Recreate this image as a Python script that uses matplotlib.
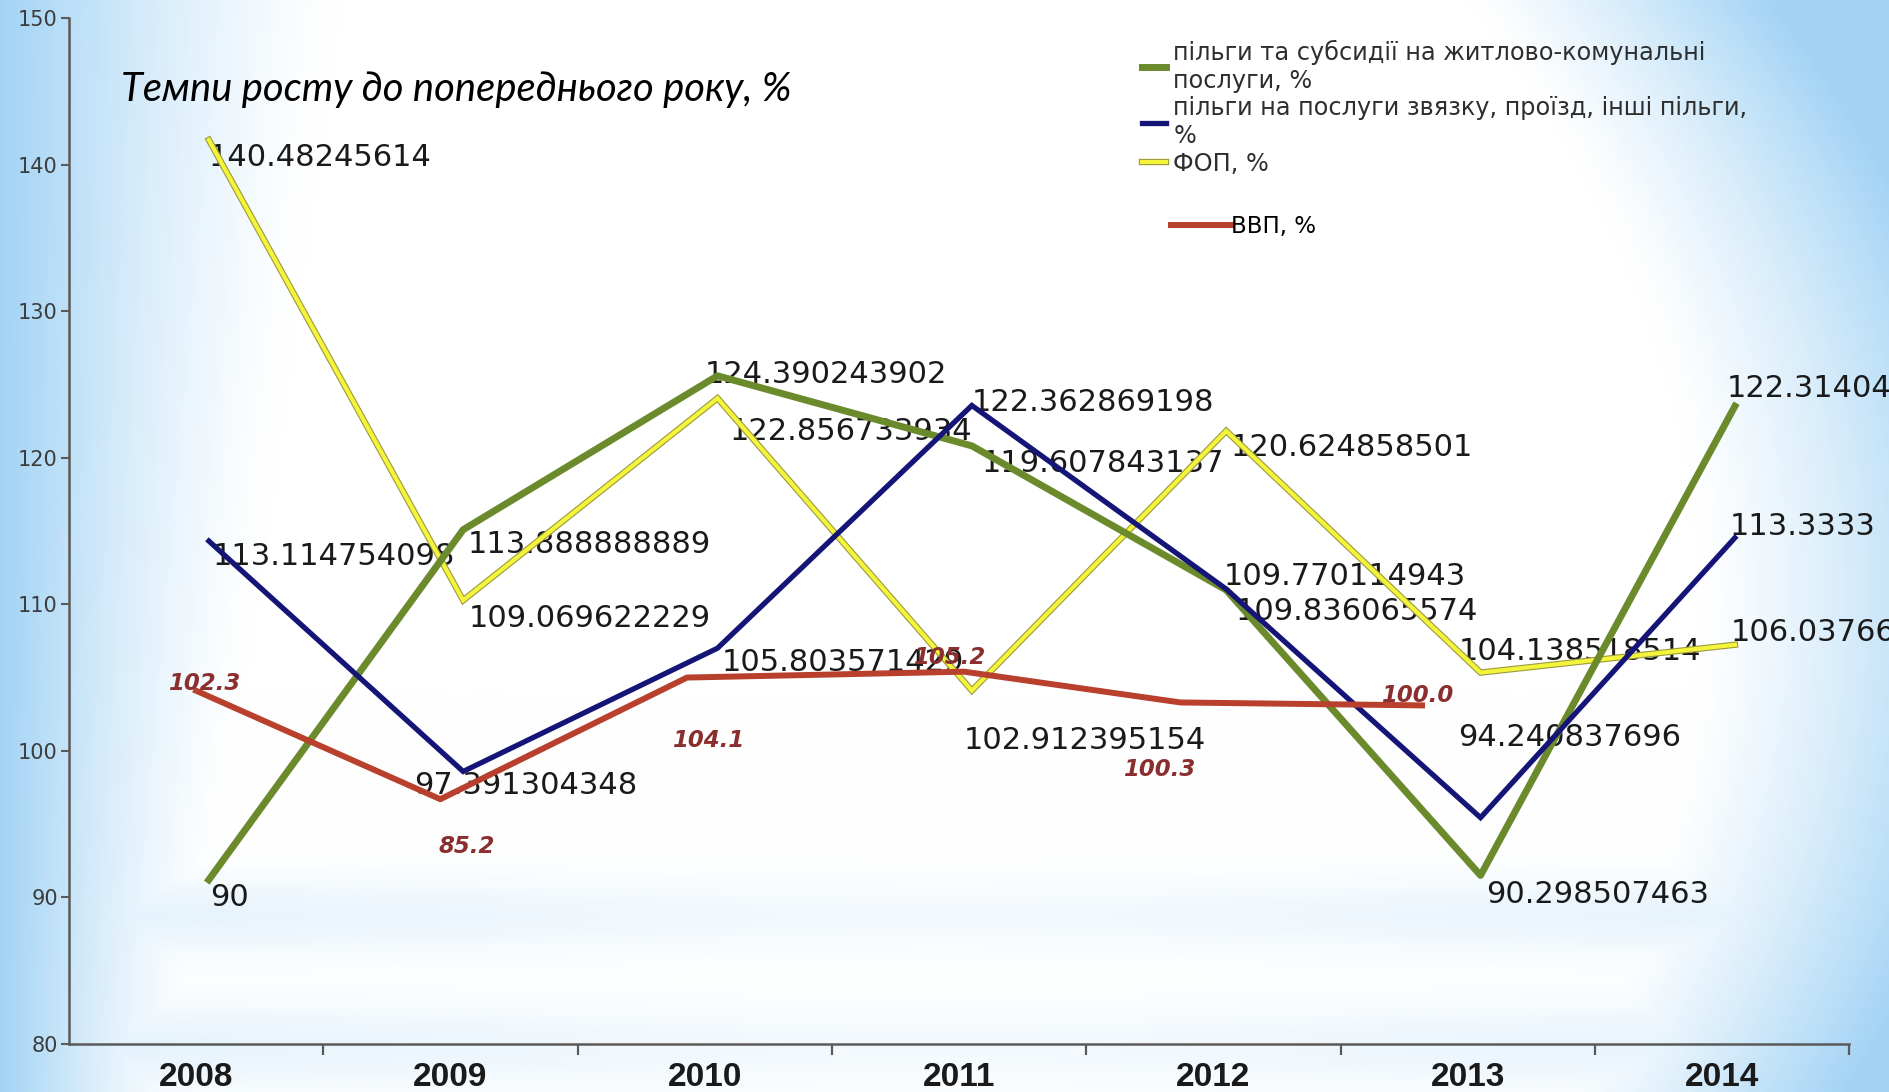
import numpy as np
import matplotlib
matplotlib.use('Agg')
from matplotlib import pyplot as plt
from matplotlib import patheffects as pe

# data
years = ['2008', '2009', '2010', '2011', '2012', '2013', '2014']
housing = [90, 113.888888889, 124.390243902, 119.607843137, 109.770114943, 90.298507463, 122.31404]
transport = [113.114754098, 97.391304348, 105.803571429, 122.362869198, 109.836065574, 94.240837696, 113.3333]
fop = [140.48245614, 109.069622229, 122.856733934, 102.912395154, 120.624858501, 104.138518514, 106.03766]

# GDP line as drawn (pasted from another chart, so its own x spots) and its labels
gdp_pos = [0, 0.96, 1.93, 3.02, 3.87, 4.82]
gdp_line = [104.1, 96.7, 105.0, 105.4, 103.3, 103.1]
gdp_lbl = ['102.3', '85.2', '104.1', '105.2', '100.3', '100.0']

names = ['пільги та субсидії на житлово-комунальні\nпослуги, %',
         'пільги на послуги звязку, проїзд, інші пільги,\n%',
         'ФОП, %']
title = 'Темпи росту до попереднього року, %'

# the picture's lines sit a bit off the axis grid
lift = 1.2
shift = 0.05

# label offsets in points (dx, dy)
off_housing = [(1, -13), (3, -11), (-9, 1), (7, -13), (-2, 9.5), (4, -14), (-6, 13)]
off_transport = [(3, -11), (-35, -10), (3, -10), (0, 2), (7, -16.5), (-16, 58), (-3.5, 8)]
off_fop = [(0, -13), (4, -13), (9, -24), (-6, -36), (3, -12), (-16, 15.5), (-3, 8.5)]
off_gdp = [(6, 5), (19, -34), (15, -45), (-11, 10), (-15, -48), (-3.5, 7)]

green = '#6a8a2c'
navy = '#151578'
yellow = '#f4f43c'
red = '#b8402c'

fig = plt.figure(figsize=(18.89, 10.92), dpi=100)

# background gradient
H, W = 273, 472
yy, xx = np.mgrid[0:1:H * 1j, 0:1:W * 1j]
wl = np.clip(1 - xx / (0.10 + 0.08 * yy), 0, 1) ** 1.4
xr = 0.9 - 0.4 * (yy - 0.45) ** 2
wr = np.clip((xx - xr) / 0.16, 0, 1) ** 1.2
side = 1 - 0.6 * np.exp(-((xx - 0.5) / 0.35) ** 2)
wb = (0.3 * np.exp(-((yy - 0.16) / 0.035) ** 2) + 0.3 * np.exp(-((yy - 0.04) / 0.04) ** 2)) * side
w = np.clip(np.maximum.reduce([wl, wr, wb]), 0, 1)
blue = np.array([0.64, 0.83, 0.96])
img = 1 - w[..., None] * (1 - blue)
bg = fig.add_axes([0, 0, 1, 1])
bg.imshow(img, aspect='auto', extent=[0, 1, 0, 1], origin='lower', interpolation='bilinear')
bg.axis('off')

ax = fig.add_axes([0.0365, 0.044, 0.9425, 0.9395])
ax.set_facecolor('none')
x = np.arange(len(years))

l_red, = ax.plot(gdp_pos, gdp_line, color=red, lw=4.3, zorder=4, solid_joinstyle='round')
l_yel, = ax.plot(x + shift, np.array(fop) + lift, color=yellow, lw=3, zorder=3,
                 solid_joinstyle='miter',
                 path_effects=[pe.Stroke(linewidth=4.6, foreground='#9a9a3c'), pe.Normal()])
l_grn, = ax.plot(x + shift, np.array(housing) + lift, color=green, lw=5, zorder=3, solid_joinstyle='round')
l_blu, = ax.plot(x + shift, np.array(transport) + lift, color=navy, lw=3.8, zorder=3, solid_joinstyle='miter')

for vals, offs in [(housing, off_housing), (transport, off_transport), (fop, off_fop)]:
    for i, v in enumerate(vals):
        ax.annotate(f'{v:.12g}', (x[i] + shift, v + lift), xytext=offs[i], textcoords='offset points',
                    ha='left', va='center', fontsize=22, color='#1a1a1a', zorder=2, annotation_clip=False)

for i, t in enumerate(gdp_lbl):
    ax.annotate(t, (gdp_pos[i], gdp_line[i]), xytext=off_gdp[i], textcoords='offset points',
                ha='center', va='center', fontsize=16.5, style='italic', fontweight='bold',
                color='#8b2e2e', zorder=6)

ax.set_xlim(-0.5, 6.5)
ax.set_ylim(80, 150)
ax.set_yticks(range(80, 151, 10))
ax.set_xticks(x)
ax.set_xticklabels(years, fontsize=24, fontweight='bold', family='Liberation Sans', color='#1a1a1a')
ax.set_xticks(np.arange(0.5, 7, 1), minor=True)
ax.tick_params(axis='x', which='major', length=0, pad=13)
ax.tick_params(axis='x', which='minor', length=8, width=1.6, color='#5a5a5a')
ax.tick_params(axis='y', length=6, width=1.5, color='#5a5a5a', labelsize=15, labelcolor='#3c3c3c', pad=2)
for s in ['top', 'right']:
    ax.spines[s].set_visible(False)
for s in ['left', 'bottom']:
    ax.spines[s].set_color('#5a5a5a')
    ax.spines[s].set_linewidth(1.8)

fig.legend(handles=[l_grn, l_blu, l_yel], labels=names, loc='upper left',
           bbox_to_anchor=(0.6045, 0.9635), frameon=False, fontsize=17.3, handlelength=1.0,
           handletextpad=0.3, labelspacing=0.15, borderpad=0, borderaxespad=0, labelcolor='#2e2e2e')
fig.legend(handles=[l_red], labels=['ВВП, %'], loc='center left', bbox_to_anchor=(0.62, 0.7926),
           frameon=False, fontsize=16.5, handlelength=2.6, handletextpad=0, borderpad=0, borderaxespad=0)

fig.text(0.0638, 0.9176, title, fontsize=28.8, style='italic', family='Lato', va='center', color='black')

fig.savefig('out.png', dpi=100)
